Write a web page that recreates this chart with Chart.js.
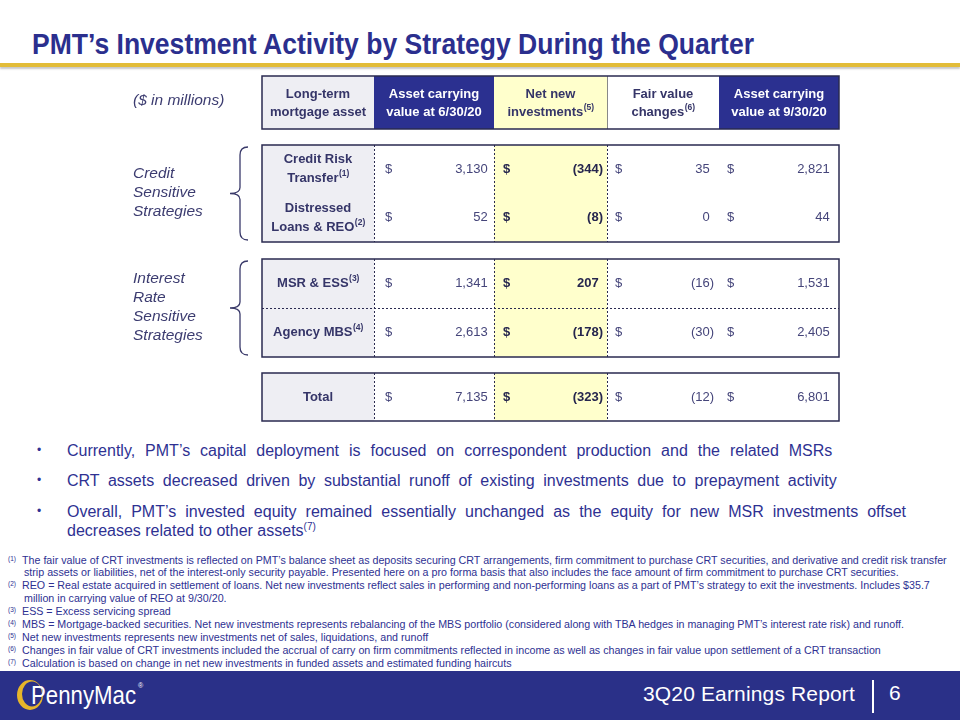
<!DOCTYPE html>
<html>
<head>
<meta charset="utf-8">
<script src="https://cdn.jsdelivr.net/npm/chart.js@4.4.0/dist/chart.umd.min.js"></script>
<style>
  body { margin: 0; width: 960px; height: 720px; position: relative; overflow: hidden; background: #fff;
         font-family: "Liberation Sans", Arial, sans-serif; color: #2E3192; }
  .abs { position: absolute; white-space: nowrap; }
  .narrow { font-family: "Liberation Sans Narrow", "Arial Narrow", "Liberation Sans", sans-serif; }
  #title { left: 32px; top: 30px; font-size: 29px; line-height: 29px; font-weight: bold; color: #2B2F8E;
           transform: scaleX(0.915); transform-origin: 0 0; }
  #rule { left: 0; top: 63px; width: 960px; height: 4px; background: #E2BC38; box-shadow: 0 2px 2px #c8c8c8; }
  .bullet { left: 37px; font-size: 16px; line-height: 19px; color: #2E3192; }
  .bullet span.dot { position: absolute; left: 0; top: 0; font-size: 12px; }
  .bullet div { margin-left: 30px; }
  #notes { left: 8px; top: 553.5px; font-size: 10.7px; line-height: 12.9px; color: #2E3192; }
  #notes sup { font-size: 6.5px; line-height: 0; vertical-align: baseline; position: relative; top: -3px;
               display: inline-block; width: 14px; }
  #notes .cont { padding-left: 16px; }
  #footer { left: 0; top: 671px; width: 960px; height: 49px; background: #2A3088; }
  #report { left: 643px; top: 683px; font-size: 21px; line-height: 22px; letter-spacing: 0.15px; color: #fff; }
  #bar { left: 872px; top: 680px; width: 2px; height: 33px; background: #fff; }
  #page { left: 889px; top: 682px; font-size: 21px; line-height: 22px; color: #fff; }
  canvas { position: absolute; left: 0; top: 0; }
</style>
</head>
<body>
<div id="title" class="abs narrow">PMT’s Investment Activity by Strategy During the Quarter</div>
<div id="rule" class="abs"></div>

<canvas id="tableChart" width="960" height="440"></canvas>

<div class="abs bullet narrow" style="top:441px"><span class="dot">•</span><div style="word-spacing:5.5px">Currently, PMT’s capital deployment is focused on correspondent production and the related MSRs</div></div>
<div class="abs bullet narrow" style="top:471px"><span class="dot">•</span><div style="word-spacing:4.2px">CRT assets decreased driven by substantial runoff of existing investments due to prepayment activity</div></div>
<div class="abs bullet narrow" style="top:502px; white-space:normal; width:869px"><span class="dot">•</span><div style="text-align:justify; text-align-last:left">Overall, PMT’s invested equity remained essentially unchanged as the equity for new MSR investments offset decreases related to other assets<sup style="font-size:10px; line-height:0">(7)</sup></div></div>

<div id="notes" class="abs">
  <div><sup>(1)</sup>The fair value of CRT investments is reflected on PMT’s balance sheet as deposits securing CRT arrangements, firm commitment to purchase CRT securities, and derivative and credit risk transfer</div>
  <div class="cont">strip assets or liabilities, net of the interest-only security payable. Presented here on a pro forma basis that also includes the face amount of firm commitment to purchase CRT securities.</div>
  <div><sup>(2)</sup>REO = Real estate acquired in settlement of loans. Net new investments reflect sales in performing and non-performing loans as a part of PMT’s strategy to exit the investments. Includes $35.7</div>
  <div class="cont">million in carrying value of REO at 9/30/20.</div>
  <div><sup>(3)</sup>ESS = Excess servicing spread</div>
  <div><sup>(4)</sup>MBS = Mortgage-backed securities. Net new investments represents rebalancing of the MBS portfolio (considered along with TBA hedges in managing PMT’s interest rate risk) and runoff.</div>
  <div><sup>(5)</sup>Net new investments represents new investments net of sales, liquidations, and runoff</div>
  <div><sup>(6)</sup>Changes in fair value of CRT investments included the accrual of carry on firm commitments reflected in income as well as changes in fair value upon settlement of a CRT transaction</div>
  <div><sup>(7)</sup>Calculation is based on change in net new investments in funded assets and estimated funding haircuts</div>
</div>

<div id="footer" class="abs"></div>
<svg class="abs" style="left:0;top:671px" width="200" height="49">
  <path fill="#E6B52A" fill-rule="evenodd"
        d="M17,24 a13,15 0 1,0 26,0 a13,15 0 1,0 -26,0 Z M22,23 a10,12.5 0 1,0 20,0 a10,12.5 0 1,0 -20,0 Z"/>
  <text x="31" y="33" fill="#fff" font-family="Liberation Sans, sans-serif" font-size="25"
        textLength="105" lengthAdjust="spacingAndGlyphs">PennyMac</text>
  <text x="138" y="17" fill="#fff" font-family="Liberation Sans, sans-serif" font-size="7">®</text>
</svg>
<div id="report" class="abs">3Q20 Earnings Report</div>
<div id="bar" class="abs"></div>
<div id="page" class="abs">6</div>

<script>
// Table data ($ in millions)
const columnHeaders = [
  ["Long-term", "mortgage asset"],
  ["Asset carrying", "value at 6/30/20"],
  ["Net new", "investments"],
  ["Fair value", "changes"],
  ["Asset carrying", "value at 9/30/20"],
];
const headerNotes = ["", "", "(5)", "(6)", ""];
const assetLabels = [["Credit Risk", "Transfer"], ["Distressed", "Loans & REO"], ["MSR & ESS"], ["Agency MBS"], ["Total"]];
const assetNotes = ["(1)", "(2)", "(3)", "(4)", ""];
const carryingJun = [3130, 52, 1341, 2613, 7135];
const netNewInvestments = [-344, -8, 207, -178, -323];
const fairValueChanges = [35, 0, -16, -30, -12];
const carryingSep = [2821, 44, 1531, 2405, 6801];
const unitLabel = "($ in millions)";
const strategyGroups = [["Credit", "Sensitive", "Strategies"], ["Interest", "Rate", "Sensitive", "Strategies"]];

// Layout of the table in slide units
const colEdges = [262, 374, 494, 607, 719, 839];
const headerBand = [76, 129];
const blockBands = [[145, 242], [259, 357], [373, 421]];
const blockRows = [[0, 1], [2, 3], [4]];

const NAVY = "#2B3090";
const INK = "#353568";
const VALUE_INK = "#45457A";

function fmt(v) {
  const s = Math.abs(v).toLocaleString("en-US");
  return v < 0 ? "(" + s + ")" : s;
}

// draws text with a superscript note after it
function drawNoted(ctx, text, note, x, y, font, noteFont) {
  ctx.font = font;
  const w1 = ctx.measureText(text).width;
  ctx.font = noteFont;
  const w2 = note ? ctx.measureText(note).width : 0;
  const left = x - (w1 + w2) / 2;
  ctx.textAlign = "left";
  ctx.font = font;
  ctx.fillText(text, left, y);
  if (note) {
    ctx.font = noteFont;
    ctx.fillText(note, left + w1 + 0.5, y - 5);
  }
}

function drawBrace(ctx, px, py, x, top, bottom) {
  const mid = (top + bottom) / 2;
  ctx.save();
  ctx.strokeStyle = "#3A3A6A";
  ctx.lineWidth = 1.3;
  ctx.beginPath();
  ctx.moveTo(px(x + 10), py(top));
  ctx.quadraticCurveTo(px(x + 2), py(top), px(x + 2), py(top + 8));
  ctx.lineTo(px(x + 2), py(mid - 6));
  ctx.quadraticCurveTo(px(x + 2), py(mid), px(x - 8), py(mid));
  ctx.quadraticCurveTo(px(x + 2), py(mid), px(x + 2), py(mid + 6));
  ctx.lineTo(px(x + 2), py(bottom - 8));
  ctx.quadraticCurveTo(px(x + 2), py(bottom), px(x + 10), py(bottom));
  ctx.stroke();
  ctx.restore();
}

const tablePlugin = {
  id: "tablePlugin",
  afterDraw(chart) {
    const { ctx, scales: { x, y } } = chart;
    const px = (v) => x.getPixelForValue(v);
    const py = (v) => y.getPixelForValue(v);
    const colX = (i) => px(colEdges[i]);
    const left = colX(0), right = colX(5);

    ctx.save();
    ctx.textBaseline = "middle";

    // header row
    const headFills = ["#EEEEF3", NAVY, "#FFFFCC", "#FFFFFF", NAVY];
    const headInk = [INK, "#FFFFFF", INK, INK, "#FFFFFF"];
    const hTop = py(headerBand[0]), hBot = py(headerBand[1]);
    columnHeaders.forEach((lines, i) => {
      ctx.fillStyle = headFills[i];
      ctx.fillRect(colX(i), hTop, colX(i + 1) - colX(i), hBot - hTop);
      ctx.fillStyle = headInk[i];
      const cx = (colX(i) + colX(i + 1)) / 2;
      drawNoted(ctx, lines[0], "", cx, py(94.5), "bold 13px 'Liberation Sans'", "");
      drawNoted(ctx, lines[1], headerNotes[i], cx, py(112.5),
        "bold 13px 'Liberation Sans'", "bold 8.5px 'Liberation Sans'");
    });
    ctx.strokeStyle = "#888";
    ctx.lineWidth = 1;
    ctx.beginPath();
    ctx.moveTo(colX(3) + 0.5, hTop);
    ctx.lineTo(colX(3) + 0.5, hBot);
    ctx.stroke();
    ctx.strokeStyle = "#2A2A50";
    ctx.lineWidth = 1.5;
    ctx.strokeRect(left, hTop, right - left, hBot - hTop);

    // body blocks
    const valueCols = [carryingJun, netNewInvestments, fairValueChanges, carryingSep];
    const dollarInset = [11, 9, 8, 8];
    const parenInset = [2, 4, 5, 5];
    blockBands.forEach((band, b) => {
      const top = py(band[0]), bot = py(band[1]);
      ctx.fillStyle = "#EEEEF3";
      ctx.fillRect(left, top, colX(1) - left, bot - top);
      ctx.fillStyle = "#FFFFCC";
      ctx.fillRect(colX(2), top, colX(3) - colX(2), bot - top);

      // dotted dividers
      ctx.strokeStyle = "#2A2A50";
      ctx.lineWidth = 1;
      ctx.setLineDash([2, 2]);
      [1, 2, 3].forEach((c) => {
        ctx.beginPath();
        ctx.moveTo(colX(c) + 0.5, top);
        ctx.lineTo(colX(c) + 0.5, bot);
        ctx.stroke();
      });
      const rows = blockRows[b];
      const rowH = (band[1] - band[0]) / rows.length;
      if (b === 1) {
        ctx.beginPath();
        ctx.moveTo(left, py(band[0] + rowH) + 0.5);
        ctx.lineTo(right, py(band[0] + rowH) + 0.5);
        ctx.stroke();
      }
      ctx.setLineDash([]);
      ctx.lineWidth = 1.5;
      ctx.strokeRect(left, top, right - left, bot - top);

      rows.forEach((r, k) => {
        const cy = band[0] + rowH * (k + 0.5);
        const lines = assetLabels[r];
        ctx.fillStyle = INK;
        const cx0 = (colX(0) + colX(1)) / 2;
        if (lines.length === 2) {
          drawNoted(ctx, lines[0], "", cx0, py(cy - 9.5), "bold 13px 'Liberation Sans'", "");
          drawNoted(ctx, lines[1], assetNotes[r], cx0, py(cy + 9.5), "bold 13px 'Liberation Sans'", "bold 8.5px 'Liberation Sans'");
        } else {
          drawNoted(ctx, lines[0], assetNotes[r], cx0, py(cy), "bold 13px 'Liberation Sans'", "bold 8.5px 'Liberation Sans'");
        }
        valueCols.forEach((series, c) => {
          const bold = c === 1;
          ctx.font = (bold ? "bold " : "") + "13px 'Liberation Sans'";
          ctx.fillStyle = bold ? "#26264E" : VALUE_INK;
          ctx.textAlign = "left";
          ctx.fillText("$", colX(c + 1) + dollarInset[c], py(cy));
          const v = series[r];
          const pr = colX(c + 2) - parenInset[c];
          ctx.textAlign = "right";
          ctx.fillText(fmt(v), v < 0 ? pr : pr - ctx.measureText(")").width, py(cy));
        });
      });
    });

    // side labels and braces
    ctx.fillStyle = "#3C3C70";
    ctx.textAlign = "left";
    ctx.font = "italic 15.5px 'Liberation Sans'";
    ctx.fillText(unitLabel, px(133), py(101));
    strategyGroups.forEach((lines, g) => {
      const band = blockBands[g];
      const mid = (band[0] + band[1]) / 2;
      lines.forEach((t, k) => {
        ctx.fillText(t, px(133), py(mid + (k - (lines.length - 1) / 2) * 19 - 1));
      });
      drawBrace(ctx, px, py, 238, band[0] + 2, band[1] - 2);
    });
    ctx.restore();
  },
};

new Chart(document.getElementById("tableChart"), {
  type: "scatter",
  data: { datasets: [] },
  options: {
    responsive: false,
    animation: false,
    events: [],
    layout: { padding: 0 },
    scales: {
      x: { type: "linear", min: 0, max: 960, display: false },
      y: { type: "linear", min: 0, max: 440, reverse: true, display: false },
    },
    plugins: { legend: { display: false }, tooltip: { enabled: false } },
  },
  plugins: [tablePlugin],
});
</script>
</body>
</html>
